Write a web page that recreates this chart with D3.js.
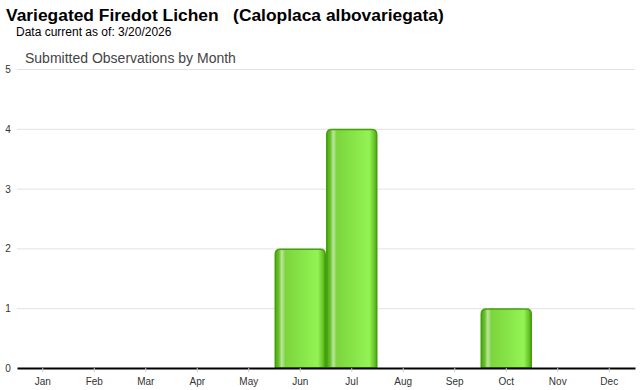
<!DOCTYPE html>
<html><head><meta charset="utf-8">
<script src="https://cdn.jsdelivr.net/npm/d3@7"></script>
<style>body{margin:0;background:#fff;}svg{display:block;}</style>
</head><body>
<script>
const months = ["Jan","Feb","Mar","Apr","May","Jun","Jul","Aug","Sep","Oct","Nov","Dec"];
const counts = [0,0,0,0,0,2,4,0,0,1,0,0];
const yTicks = [0,1,2,3,4,5];
const title = "Variegated Firedot Lichen   (Caloplaca albovariegata)";
const subtitle = "Data current as of: 3/20/2026";
const chartTitle = "Submitted Observations by Month";

(function(){
const W = 640, H = 390;
const svg = d3.select("body").append("svg").attr("width", W).attr("height", H);
const pLeft = 17, pRight = 635, pTop = 69, pBottom = 368;

const x = d3.scaleBand().domain(months).range([pLeft, pRight]).paddingInner(0).paddingOuter(0);
const y = d3.scaleLinear().domain([0,5]).range([pBottom, pTop]);

const defs = svg.append("defs");
const g = defs.append("linearGradient").attr("id","barG").attr("x1","0").attr("x2","1").attr("y1","0").attr("y2","0");
[[0,"#4aa80f"],[0.07,"#66c22a"],[0.13,"#bde5a0"],[0.2,"#7cd53c"],[0.5,"#86e347"],[0.85,"#93f354"],[0.95,"#68c52a"],[1,"#4aa80f"]]
  .forEach(([o,c]) => g.append("stop").attr("offset", o).attr("stop-color", c));

svg.append("text").attr("x",6).attr("y",21).attr("font-family","Arial, Liberation Sans, sans-serif")
  .attr("font-weight","bold").attr("font-size","17.4px").attr("fill","#000").style("white-space","pre").text(title);
svg.append("text").attr("x",16).attr("y",36).attr("font-family","Arial, Liberation Sans, sans-serif")
  .attr("font-size","12px").attr("fill","#000").text(subtitle);
svg.append("text").attr("x",25).attr("y",63).attr("font-family","Arial, Liberation Sans, sans-serif")
  .attr("font-size","14px").attr("fill","#444").text(chartTitle);

svg.append("g").selectAll("line").data(yTicks.filter(d=>d>0)).join("line")
  .attr("x1", pLeft).attr("x2", pRight).attr("y1", d=>y(d)+0.5).attr("y2", d=>y(d)+0.5)
  .attr("stroke","#e2e2e2").attr("stroke-width",1);

svg.append("g").selectAll("text").data(yTicks).join("text")
  .attr("x", 8).attr("y", d=>y(d)+4).attr("text-anchor","middle")
  .attr("font-family","Arial, Liberation Sans, sans-serif").attr("font-size","10px").attr("fill","#333")
  .text(d=>d);

const r = 5;
function barPath(x0, w, yTop, yBot){
  return `M${x0},${yBot} L${x0},${yTop+r} Q${x0},${yTop} ${x0+r},${yTop} L${x0+w-r},${yTop} Q${x0+w},${yTop} ${x0+w},${yTop+r} L${x0+w},${yBot} Z`;
}
svg.append("g").selectAll("path").data(months.map((m,i)=>({m, v:counts[i]})).filter(d=>d.v>0)).join("path")
  .attr("d", d => barPath(x(d.m)+0.75, x.bandwidth()-1.5, y(d.v)+0.75, pBottom))
  .attr("fill","url(#barG)").attr("stroke","#44a00c").attr("stroke-width",1.5);

const xAxis = svg.append("g").attr("transform",`translate(0,${pBottom})`)
  .call(d3.axisBottom(x).tickSize(4).tickSizeOuter(0).tickPadding(6));
xAxis.select(".domain").attr("stroke","#000").attr("stroke-width",2);
xAxis.selectAll(".tick line").attr("stroke","#ccc");
xAxis.selectAll(".tick text").attr("font-family","Arial, Liberation Sans, sans-serif").attr("font-size","10px").attr("fill","#333");
})();
</script>
</body></html>
